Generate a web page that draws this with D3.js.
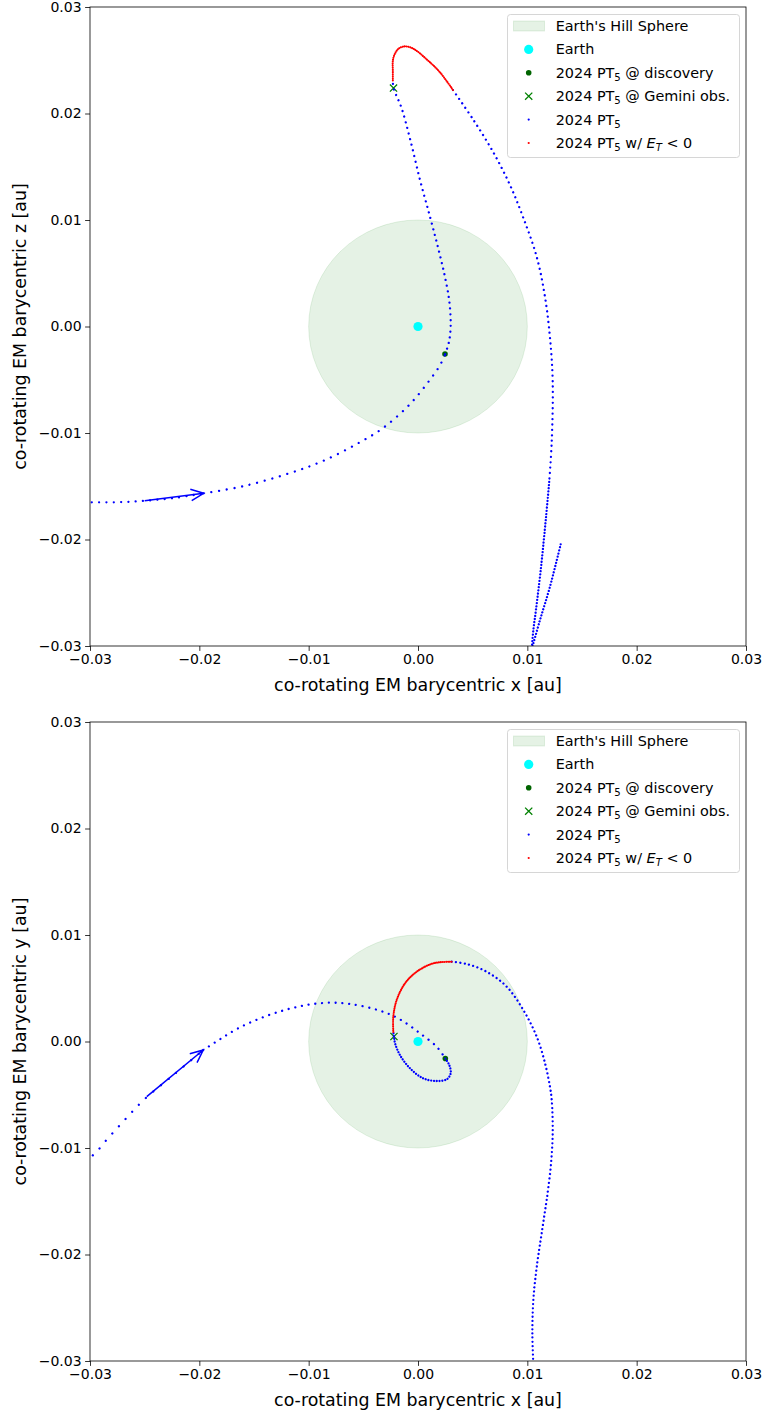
<!DOCTYPE html>
<html>
<head>
<meta charset="utf-8">
<script src="https://cdn.jsdelivr.net/npm/d3@7"></script>
<style>
  body { margin: 0; background: #fff; }
  text { font-family: "DejaVu Sans", sans-serif; }
</style>
</head>
<body>
<div id="chart"></div>
<script>
// axis ticks (au), shared by both panels
const axisTicks = [-0.03, -0.02, -0.01, 0, 0.01, 0.02, 0.03];
const earth = [0, 0];
const hillRadius = 0.01;

// x-z view in pieces along the track
const xzApproach = [[-0.0305, -0.0165], [-0.0275, -0.0165], [-0.0250, -0.01636], [-0.0223, -0.0161], [-0.0196, -0.01566]];
const xzIncoming = [[-0.0196, -0.01566], [-0.0160, -0.0150], [-0.0117, -0.01376], [-0.0087, -0.01263], [-0.0056, -0.01103],
  [-0.0032, -0.00953], [-0.0007, -0.00725], [0.0011, -0.00499], [0.0020, -0.00366], [0.00249, -0.0026]];
const xzInner = [[0.00249, -0.0026], [0.00284, -0.0014], [0.00299, 0.0001], [0.00286, 0.0024], [0.00247, 0.00465],
  [0.00186, 0.0073], [0.0011, 0.0103], [0.0002, 0.0137], [-0.0007, 0.0175], [-0.0015, 0.0205], [-0.00224, 0.0224], [-0.0023, 0.0231]];
const xzBound = [[-0.0023, 0.0231], [-0.0023, 0.0239], [-0.00226, 0.0252], [-0.0018, 0.02607], [-0.0012, 0.0263],
  [-0.0004, 0.02607], [0.0008, 0.02508], [0.0020, 0.02388], [0.0032, 0.0222]];
const xzOutgoing = [[0.0032, 0.0222], [0.0051, 0.01935], [0.0069, 0.01633], [0.0084, 0.01331], [0.0096, 0.01029],
  [0.01086, 0.00653], [0.01162, 0.00275], [0.01207, -0.00102], [0.01232, -0.00517], [0.01223, -0.01084], [0.0120, -0.0146]];
const xzDescent = [[0.0120, -0.0146], [0.0117, -0.0180], [0.01122, -0.0229], [0.01079, -0.0266], [0.01055, -0.0285], [0.0104, -0.0303]];
const xzTail = [[0.0104, -0.0303], [0.01116, -0.02756], [0.01207, -0.02443], [0.01305, -0.02045]];
const xzArrow = [[-0.0250, -0.01636], [-0.0196, -0.01566]];
const xzDiscovery = [0.00247, -0.00258];
const xzGemini = [-0.00224, 0.02239];

// x-y view
const xyApproach = [[-0.0305, -0.0112], [-0.02963, -0.01059], [-0.02847, -0.00922], [-0.02726, -0.00784], [-0.02613, -0.00659],
  [-0.02497, -0.00537], [-0.0222, -0.0030], [-0.01964, -0.0008]];
const xyIncoming = [[-0.01964, -0.0008], [-0.01811, 0.00021], [-0.01644, 0.00124], [-0.0143, 0.00223], [-0.01216, 0.00296],
  [-0.01018, 0.00343], [-0.0082, 0.00364], [-0.0062, 0.00352], [-0.00348, 0.00289], [-0.00165, 0.00208],
  [0.00018, 0.00077], [0.00171, -0.00049], [0.0025, -0.0016]];
const xyInner = [[0.0025, -0.0016], [0.00286, -0.00221], [0.00299, -0.00299], [0.00263, -0.00355], [0.00171, -0.00371],
  [0.00048, -0.00346], [-0.00073, -0.00252], [-0.00165, -0.00127], [-0.0021, -0.00017], [-0.0022, 0.00045], [-0.00226, 0.0009]];
const xyBound = [[-0.00226, 0.0009], [-0.00226, 0.00233], [-0.00195, 0.0039], [-0.00119, 0.00546], [-0.00012, 0.00655],
  [0.0014, 0.00734], [0.00308, 0.00749]];
const xyOutgoing = [[0.00308, 0.00749], [0.00445, 0.00728], [0.00628, 0.00655], [0.00811, 0.00515], [0.00963, 0.00296],
  [0.01086, 0.00045], [0.01162, -0.00205], [0.01207, -0.00424], [0.01223, -0.00549], [0.01232, -0.00862],
  [0.01214, -0.01176], [0.01177, -0.01488]];
const xyDescent = [[0.01177, -0.01488], [0.01131, -0.01801], [0.01086, -0.02115], [0.01055, -0.02427], [0.01046, -0.0274], [0.01055, -0.0303]];
const xyArrow = [[-0.02481, -0.00518], [-0.01964, -0.0008]];
const xyDiscovery = [0.0025, -0.0016];
const xyGemini = [-0.0022, 0.00047];

const width = 763, height = 1415;
const plotLeft = 90, plotW = 656, plotH = 639;

const panels = [
  { top: 7, yLabel: "co-rotating EM barycentric z [au]", arrow: xzArrow, discovery: xzDiscovery, gemini: xzGemini,
    segments: [
      { pts: xzApproach, color: "#0000ff", gap: 7.3 },
      { pts: xzIncoming, color: "#0000ff", gap: 7.8 },
      { pts: xzInner, color: "#0000ff", gap: 5.8 },
      { pts: xzOutgoing, color: "#0000ff", gap: 5.4 },
      { pts: xzDescent, color: "#0000ff", gap: 3.2 },
      { pts: xzTail, color: "#0000ff", gap: 3.2 },
      { pts: xzBound, color: "#ff0000", gap: 1.9 }
    ] },
  { top: 722, yLabel: "co-rotating EM barycentric y [au]", arrow: xyArrow, discovery: xyDiscovery, gemini: xyGemini,
    segments: [
      { pts: xyApproach, color: "#0000ff", gap: 9.8 },
      { pts: xyIncoming, color: "#0000ff", gap: 6.8 },
      { pts: xyInner, color: "#0000ff", gap: 2.8 },
      { pts: xyOutgoing, color: "#0000ff", gap: 4.4 },
      { pts: xyDescent, color: "#0000ff", gap: 4.2 },
      { pts: xyBound, color: "#ff0000", gap: 1.8 }
    ] }
];

const svg = d3.select("#chart").append("svg")
  .attr("width", width)
  .attr("height", height);

const fmt = d3.format(".2f");

panels.forEach((p, i) => {
  const x = d3.scaleLinear().domain([-0.03, 0.03]).range([plotLeft, plotLeft + plotW]);
  const y = d3.scaleLinear().domain([-0.03, 0.03]).range([p.top + plotH, p.top]);

  const clipId = "clip" + i;
  svg.append("clipPath").attr("id", clipId)
    .append("rect")
    .attr("x", plotLeft).attr("y", p.top)
    .attr("width", plotW).attr("height", plotH);

  const g = svg.append("g").attr("clip-path", `url(#${clipId})`);

  // Hill sphere
  g.append("ellipse")
    .attr("cx", x(earth[0])).attr("cy", y(earth[1]))
    .attr("rx", x(hillRadius) - x(0))
    .attr("ry", y(0) - y(hillRadius))
    .attr("fill", "green").attr("fill-opacity", 0.1)
    .attr("stroke", "green").attr("stroke-opacity", 0.1);

  g.append("circle")
    .attr("cx", x(earth[0])).attr("cy", y(earth[1]))
    .attr("r", 4.6).attr("fill", "#00ffff");

  g.append("circle")
    .attr("cx", x(p.discovery[0])).attr("cy", y(p.discovery[1]))
    .attr("r", 2.8).attr("fill", "#006400");

  const gx = x(p.gemini[0]), gy = y(p.gemini[1]);
  g.append("path")
    .attr("d", `M${gx - 3.6},${gy - 3.6}L${gx + 3.6},${gy + 3.6}M${gx - 3.6},${gy + 3.6}L${gx + 3.6},${gy - 3.6}`)
    .attr("stroke", "#008000").attr("stroke-width", 1.3);

  const line = d3.line()
    .x(d => x(d[0])).y(d => y(d[1]))
    .curve(d3.curveCatmullRom.alpha(0.5));

  g.selectAll(".track")
    .data(p.segments)
    .join("path")
    .attr("class", "track")
    .attr("d", d => line(d.pts))
    .attr("fill", "none")
    .attr("stroke", d => d.color)
    .attr("stroke-width", d => d.color === "#ff0000" ? 2.1 : 2.3)
    .attr("stroke-linecap", "round")
    .attr("stroke-dasharray", d => `0.001 ${d.gap}`);

  // direction arrow
  const [a0, a1] = p.arrow;
  const sx = x(a0[0]), sy = y(a0[1]), ex = x(a1[0]), ey = y(a1[1]);
  const ang = Math.atan2(ey - sy, ex - sx);
  const hl = 14, ha = 24 * Math.PI / 180;
  g.append("path")
    .attr("d", `M${sx},${sy}L${ex},${ey}` +
      `M${ex - hl * Math.cos(ang - ha)},${ey - hl * Math.sin(ang - ha)}L${ex},${ey}` +
      `L${ex - hl * Math.cos(ang + ha)},${ey - hl * Math.sin(ang + ha)}`)
    .attr("fill", "none").attr("stroke", "#0000ff").attr("stroke-width", 1.5);

  // axes
  const ax = svg.append("g").attr("transform", `translate(0,${p.top + plotH})`)
    .call(d3.axisBottom(x).tickValues(axisTicks).tickFormat(fmt).tickSizeOuter(0).tickSize(4.9).tickPadding(3.5));
  const ay = svg.append("g").attr("transform", `translate(${plotLeft},0)`)
    .call(d3.axisLeft(y).tickValues(axisTicks).tickFormat(fmt).tickSizeOuter(0).tickSize(4.9).tickPadding(3.5));
  [ax, ay].forEach(a => {
    a.select(".domain").remove();
    a.selectAll("text").attr("font-size", 14).attr("fill", "#000").attr("font-family", "DejaVu Sans");
    a.selectAll("line").attr("stroke", "#000").attr("stroke-width", 0.8);
  });

  svg.append("rect")
    .attr("x", plotLeft).attr("y", p.top)
    .attr("width", plotW).attr("height", plotH)
    .attr("fill", "none").attr("stroke", "#000").attr("stroke-width", 0.8);

  svg.append("text")
    .attr("x", plotLeft + plotW / 2).attr("y", p.top + plotH + 45)
    .attr("text-anchor", "middle").attr("font-size", 17.4)
    .text("co-rotating EM barycentric x [au]");

  svg.append("text")
    .attr("transform", `translate(26,${p.top + plotH / 2}) rotate(-90)`)
    .attr("text-anchor", "middle").attr("font-size", 17.4)
    .text(p.yLabel);

  // legend
  const lg = svg.append("g").attr("transform", `translate(507.5,${p.top + 7.5})`);
  lg.append("rect")
    .attr("width", 232).attr("height", 143).attr("rx", 3)
    .attr("fill", "#fff").attr("fill-opacity", 0.8)
    .attr("stroke", "#cccccc").attr("stroke-width", 0.8);

  const rowY = k => 11.5 + k * 23.4;
  const hx = 21.2, tx = 48.2;

  lg.append("rect")
    .attr("x", 6).attr("y", rowY(0) - 5).attr("width", 31).attr("height", 10)
    .attr("fill", "green").attr("fill-opacity", 0.1)
    .attr("stroke", "green").attr("stroke-opacity", 0.1);
  lg.append("circle").attr("cx", hx).attr("cy", rowY(1)).attr("r", 4.6).attr("fill", "#00ffff");
  lg.append("circle").attr("cx", hx).attr("cy", rowY(2)).attr("r", 2.8).attr("fill", "#006400");
  const xy3 = rowY(3);
  lg.append("path")
    .attr("d", `M${hx - 3.6},${xy3 - 3.6}L${hx + 3.6},${xy3 + 3.6}M${hx - 3.6},${xy3 + 3.6}L${hx + 3.6},${xy3 - 3.6}`)
    .attr("stroke", "#008000").attr("stroke-width", 1.3);
  lg.append("circle").attr("cx", hx).attr("cy", rowY(4)).attr("r", 1.1).attr("fill", "#0000ff");
  lg.append("circle").attr("cx", hx).attr("cy", rowY(5)).attr("r", 1.1).attr("fill", "#ff0000");

  const addLabel = (k, parts) => {
    const t = lg.append("text").attr("x", tx).attr("y", rowY(k) + 5).attr("font-size", 14.4);
    parts.forEach(pt => {
      const s = t.append("tspan").text(pt.s);
      if (pt.sub) s.attr("font-size", 10.1).attr("dy", 3);
      if (pt.up) s.attr("dy", -3);
      if (pt.it) s.attr("font-style", "italic");
    });
  };
  addLabel(0, [{ s: "Earth's Hill Sphere" }]);
  addLabel(1, [{ s: "Earth" }]);
  addLabel(2, [{ s: "2024 PT" }, { s: "5", sub: true }, { s: " @ discovery", up: true }]);
  addLabel(3, [{ s: "2024 PT" }, { s: "5", sub: true }, { s: " @ Gemini obs.", up: true }]);
  addLabel(4, [{ s: "2024 PT" }, { s: "5", sub: true }]);
  addLabel(5, [{ s: "2024 PT" }, { s: "5", sub: true }, { s: " w/ ", up: true }, { s: "E", it: true },
    { s: "T", it: true, sub: true }, { s: " < 0", up: true }]);
});
</script>
</body>
</html>
